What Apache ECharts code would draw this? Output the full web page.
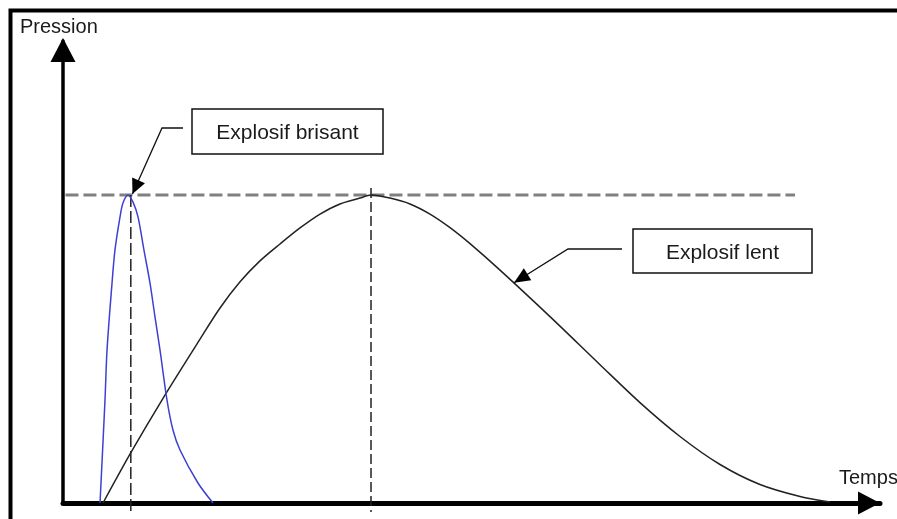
<!DOCTYPE html>
<html><head><meta charset="utf-8">
<script src="https://cdn.jsdelivr.net/npm/echarts@6/dist/echarts.min.js"></script>
<style>html,body{margin:0;padding:0;background:#fff}#c{width:897px;height:519px}</style>
</head><body><div id="c"></div>
<script>
// Time (x) and pressure (y) samples, peak pressure = 100
const brisantT = [4.53, 5.14, 5.39, 6.0, 6.36, 6.98, 7.34, 7.96, 8.57, 9.18, 9.91, 10.65, 11.26, 11.87, 12.73, 13.46, 14.32, 16.52, 18.36];
const brisantP = [0, 33.4, 49.7, 71.4, 82.1, 92.9, 97.4, 100, 97.7, 92.9, 82.1, 71.4, 60.4, 49.7, 33.4, 23.7, 17.2, 6.5, 0];
const lentT = [4.9, 8.32, 12.24, 16.77, 19.22, 21.67, 24.11, 26.56, 29.01, 31.46, 33.9, 36.35, 37.7, 40.02, 42.47, 44.92, 47.37, 49.82, 53.49, 59.61, 65.73, 70.62, 75.52, 80.42, 85.31, 90.21, 93.88];
const lentP = [0, 16.4, 34.0, 53.2, 63.3, 71.8, 78.6, 84.1, 89.3, 93.8, 97.1, 99.0, 100, 99.0, 97.1, 93.8, 89.4, 84.2, 75.6, 60.5, 44.9, 32.6, 21.6, 12.5, 6.0, 2.1, 0.3];
const peakLevel = 100;
const peakBrisantT = 8.3;
const peakLentT = 37.7;
const guideStartT = 0.3;
const guideEndT = 89.6;
const axisNames = ['Temps', 'Pression'];
const labelBrisant = 'Explosif brisant';
const labelLent = 'Explosif lent';
const arrowTipBrisant = [8.5, 100.3];
const arrowTipLent = [55.2, 71.5];

const chart = echarts.init(document.getElementById('c'), null, {renderer: 'canvas'});
const FONT = 'Liberation Sans, Arial, sans-serif';
const zip = (a, b) => a.map((v, i) => [v, b[i]]);

chart.setOption({
  animation: false,
  backgroundColor: '#fff',
  grid: {left: 63, top: 41, width: 817, height: 462},
  xAxis: {
    type: 'value', min: 0, max: 100,
    axisLine: {show: true, onZero: true, lineStyle: {color: '#000', width: 5},
      symbol: ['none', 'triangle'], symbolSize: [23, 22], symbolOffset: [0, -11]},
    axisTick: {show: false}, axisLabel: {show: false}, splitLine: {show: false}
  },
  yAxis: {
    type: 'value', min: 0, max: 150,
    axisLine: {show: true, lineStyle: {color: '#000', width: 3.5},
      symbol: ['none', 'triangle'], symbolSize: [25, 24], symbolOffset: [0, -9]},
    axisTick: {show: false}, axisLabel: {show: false}, splitLine: {show: false}
  },
  series: [
    {type: 'line', name: labelLent, data: zip(lentT, lentP), showSymbol: false, smooth: 0.3,
      lineStyle: {color: '#222', width: 1.5}, z: 3},
    {type: 'line', name: labelBrisant, data: zip(brisantT, brisantP), showSymbol: false, smooth: 0.3,
      lineStyle: {color: '#3f3fd4', width: 1.5}, z: 4}
  ]
});

const px = p => chart.convertToPixel({gridIndex: 0}, p);
const base0 = px([0, 0]);
const hA = px([guideStartT, peakLevel]), hB = px([guideEndT, peakLevel]);
const v1a = px([peakBrisantT, peakLevel]);
const v2a = px([peakLentT, peakLevel + 2.3]);
const v1x = px([peakBrisantT, 0])[0], v2x = px([peakLentT, 0])[0];

function arrowHead(from, tip, len, hw) {
  const dx = tip[0] - from[0], dy = tip[1] - from[1];
  const d = Math.hypot(dx, dy), ux = dx / d, uy = dy / d;
  const bx = tip[0] - ux * len, by = tip[1] - uy * len;
  return [[tip[0], tip[1]], [bx - uy * hw, by + ux * hw], [bx + uy * hw, by - ux * hw]];
}
const tipB = px(arrowTipBrisant), tipL = px(arrowTipLent);
const elbowB = [162, 128], elbowL = [568, 249];

chart.setOption({
  graphic: [
    {type: 'rect', shape: {x: 10.5, y: 10.5, width: 930, height: 560}, style: {fill: 'none', stroke: '#000', lineWidth: 4}, z: 50},
    {type: 'line', shape: {x1: hA[0], y1: hA[1], x2: hB[0], y2: hB[1]}, style: {stroke: '#808080', lineWidth: 3, lineDash: [13, 5]}, z: 1},
    {type: 'line', shape: {x1: v1x, y1: v1a[1], x2: v1x, y2: base0[1] + 9}, style: {stroke: '#222', lineWidth: 1.5, lineDash: [12, 4]}, z: 1},
    {type: 'line', shape: {x1: v2x, y1: v2a[1], x2: v2x, y2: base0[1] + 9}, style: {stroke: '#222', lineWidth: 1.5, lineDash: [10, 4]}, z: 1},
    {type: 'rect', shape: {x: 192, y: 109, width: 191, height: 45}, style: {fill: '#fff', stroke: '#111', lineWidth: 1.5}, z: 20},
    {type: 'text', x: 287.5, y: 133, style: {text: labelBrisant, font: '21px ' + FONT, fill: '#1a1a1a', align: 'center', verticalAlign: 'middle'}, z: 21},
    {type: 'rect', shape: {x: 633, y: 229, width: 179, height: 44}, style: {fill: '#fff', stroke: '#111', lineWidth: 1.5}, z: 20},
    {type: 'text', x: 722.5, y: 253, style: {text: labelLent, font: '21px ' + FONT, fill: '#1a1a1a', align: 'center', verticalAlign: 'middle'}, z: 21},
    {type: 'polyline', shape: {points: [[183, 128], elbowB, tipB]}, style: {stroke: '#111', lineWidth: 1.3, fill: 'none'}, z: 20},
    {type: 'polygon', shape: {points: arrowHead(elbowB, tipB, 15, 7)}, style: {fill: '#000'}, z: 20},
    {type: 'polyline', shape: {points: [[622, 249], elbowL, tipL]}, style: {stroke: '#111', lineWidth: 1.3, fill: 'none'}, z: 20},
    {type: 'polygon', shape: {points: arrowHead(elbowL, tipL, 16, 7)}, style: {fill: '#000'}, z: 20},
    {type: 'text', x: 20, y: 27, style: {text: axisNames[1], font: '20px ' + FONT, fill: '#1a1a1a', align: 'left', verticalAlign: 'middle'}, z: 21},
    {type: 'text', x: 839, y: 478, style: {text: axisNames[0], font: '20px ' + FONT, fill: '#1a1a1a', align: 'left', verticalAlign: 'middle'}, z: 21}
  ]
});
</script></body></html>
